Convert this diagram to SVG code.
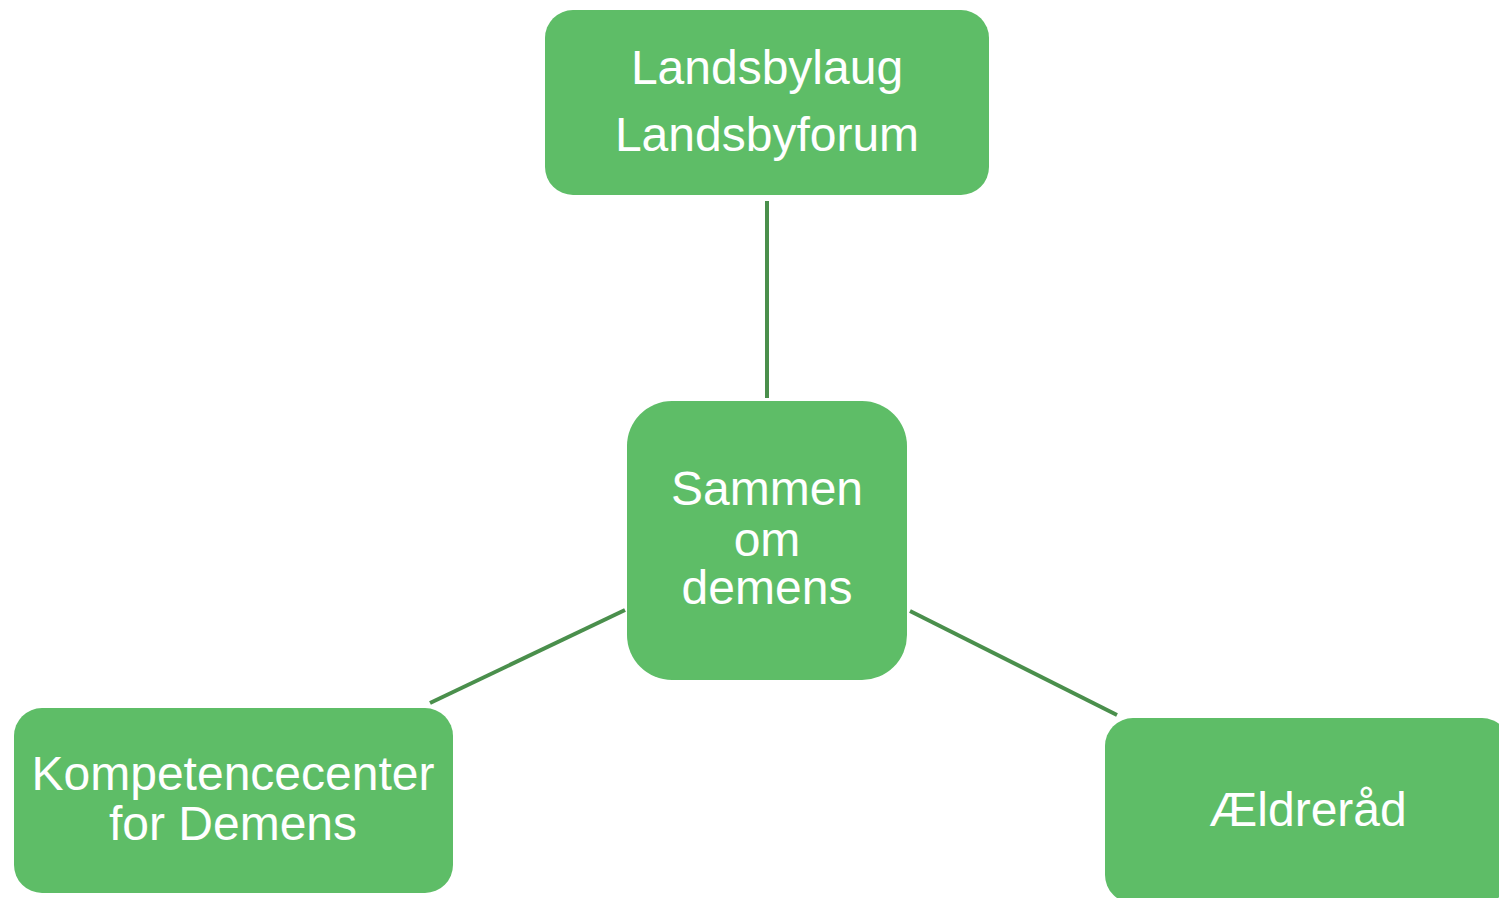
<svg xmlns="http://www.w3.org/2000/svg" width="1499" height="898" viewBox="0 0 1499 898">
<style>
.box{fill:#5ebd67;}
.lbl{font-family:"Liberation Sans",Arial,sans-serif;font-size:48px;fill:#ffffff;text-anchor:middle;}
.conn{stroke:#4a8f4c;stroke-width:4;fill:none;}
</style>
<rect width="1499" height="898" fill="#ffffff"/>
<g id="connectors">
<line class="conn" x1="767" y1="201" x2="767" y2="398"/>
<line class="conn" x1="625" y1="610" x2="430" y2="703"/>
<line class="conn" x1="910" y1="611" x2="1117" y2="715"/>
</g>
<g id="node-landsbylaug">
<rect class="box" x="545" y="10" width="444" height="185" rx="28"/>
<text class="lbl" x="767" y="84">Landsbylaug</text>
<text class="lbl" x="767" y="151">Landsbyforum</text>
</g>
<g id="node-sammen">
<rect class="box" x="627" y="401" width="280" height="279" rx="45"/>
<text class="lbl" x="767" y="505">Sammen</text>
<text class="lbl" x="767" y="556">om</text>
<text class="lbl" x="767" y="604">demens</text>
</g>
<g id="node-kompetence">
<rect class="box" x="14" y="708" width="439" height="185" rx="28"/>
<text class="lbl" x="233" y="790">Kompetencecenter</text>
<text class="lbl" x="233" y="840">for Demens</text>
</g>
<g id="node-aeldreraad">
<rect class="box" x="1105" y="718" width="405" height="185" rx="28"/>
<text class="lbl" x="1308" y="826">Ældreråd</text>
</g>
</svg>
